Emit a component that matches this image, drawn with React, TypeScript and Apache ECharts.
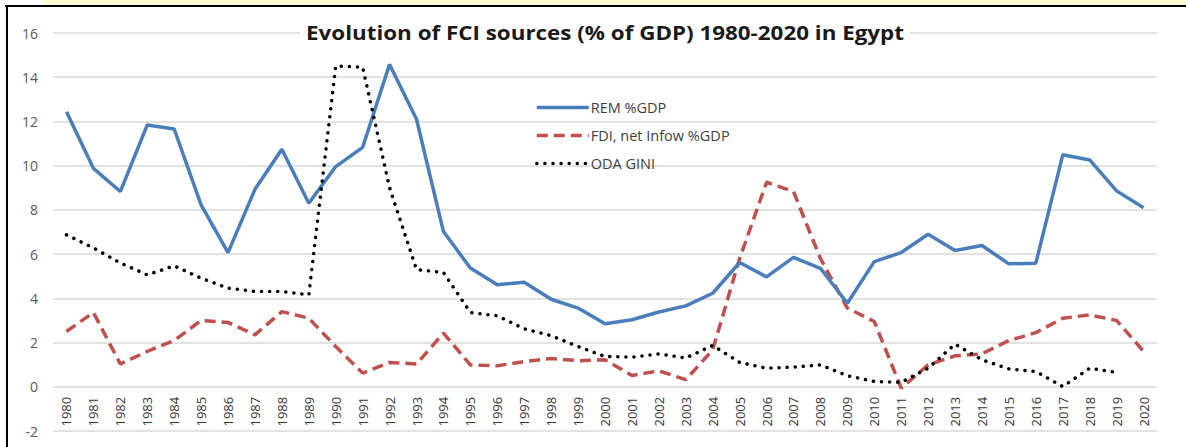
import React, { useEffect, useRef } from "react";
import * as echarts from "echarts";

const years: string[] = [
  "1980","1981","1982","1983","1984","1985","1986","1987","1988","1989",
  "1990","1991","1992","1993","1994","1995","1996","1997","1998","1999",
  "2000","2001","2002","2003","2004","2005","2006","2007","2008","2009",
  "2010","2011","2012","2013","2014","2015","2016","2017","2018","2019","2020",
];

const remGdp: number[] = [
  12.44, 9.88, 8.83, 11.84, 11.66, 8.23, 6.07, 8.93, 10.74, 8.3,
  9.96, 10.83, 14.58, 12.1, 7.02, 5.37, 4.61, 4.73, 3.96, 3.56,
  2.85, 3.03, 3.38, 3.66, 4.23, 5.62, 4.97, 5.85, 5.36, 3.78,
  5.66, 6.07, 6.9, 6.16, 6.39, 5.56, 5.59, 10.49, 10.26, 8.86, 8.1,
];

const fdiGdp: number[] = [
  2.5, 3.36, 1.03, 1.6, 2.09, 3.0, 2.91, 2.35, 3.4, 3.1,
  1.82, 0.62, 1.1, 1.03, 2.43, 0.99, 0.95, 1.14, 1.28, 1.18,
  1.22, 0.51, 0.72, 0.32, 1.67, 5.8, 9.25, 8.83, 5.8, 3.56,
  2.95, -0.06, 0.99, 1.4, 1.49, 2.09, 2.45, 3.1, 3.25, 3.0, 1.6,
];

const odaGini: (number | null)[] = [
  6.87, 6.28, 5.6, 5.06, 5.47, 4.91, 4.46, 4.31, 4.31, 4.16,
  14.51, 14.45, 9.0, 5.3, 5.17, 3.36, 3.21, 2.62, 2.31, 1.82,
  1.37, 1.34, 1.49, 1.3, 1.87, 1.1, 0.84, 0.89, 0.99, 0.5,
  0.24, 0.2, 0.84, 1.93, 1.22, 0.81, 0.69, 0.01, 0.84, 0.65, null,
];

const seriesNames: string[] = ["REM %GDP", "FDI, net Infow %GDP", "ODA GINI"];
const titleText = "Evolution of FCI sources (% of GDP) 1980-2020 in Egypt";

export default function App() {
  const ref = useRef<HTMLDivElement>(null);

  useEffect(() => {
    document.body.style.margin = "0";
    if (!ref.current) return;
    const chart = echarts.init(ref.current, undefined, { renderer: "svg" });
    const font = "'Open Sans', 'Liberation Sans', sans-serif";
    chart.setOption({
      animation: false,
      backgroundColor: "#ffffff",
      textStyle: { fontFamily: font },
      legend: {
        orient: "vertical",
        left: 530,
        top: 95,
        itemWidth: 52,
        itemHeight: 14,
        itemGap: 13,
        itemStyle: { opacity: 0 },
        lineStyle: { width: 3.5 },
        textStyle: { fontFamily: font, fontSize: 14.5, color: "#404040", padding: [0, 0, 0, -3] },
        data: seriesNames,
      },
      grid: { left: 53, right: 29, top: 33, bottom: 16, outerBoundsMode: "none", containLabel: false },
      xAxis: {
        type: "category",
        data: years,
        boundaryGap: true,
        offset: -44.22,
        axisLine: { show: false, onZero: false },
        axisTick: { show: false },
        axisLabel: {
          rotate: 90,
          interval: 0,
          margin: 10,
          fontFamily: font,
          fontSize: 13,
          color: "#333333",
        },
      },
      yAxis: {
        type: "value",
        min: -2,
        max: 16,
        interval: 2,
        axisLine: { show: false },
        axisTick: { show: false },
        axisLabel: { margin: 15, fontFamily: font, fontSize: 14, color: "#595959" },
        splitLine: { lineStyle: { color: "#d9d9d9", width: 1.5 } },
      },
      series: [
        {
          name: seriesNames[0],
          type: "line",
          data: remGdp,
          symbol: "none",
          color: "#4A7EBB",
          lineStyle: { color: "#4A7EBB", width: 3.5 },
          z: 3,
        },
        {
          name: seriesNames[1],
          type: "line",
          data: fdiGdp,
          symbol: "none",
          color: "#C0504D",
          lineStyle: { color: "#C0504D", width: 3.5, type: [11, 6] },
          z: 2,
        },
        {
          name: seriesNames[2],
          type: "line",
          data: odaGini,
          symbol: "none",
          color: "#000000",
          connectNulls: false,
          lineStyle: { color: "#000000", width: 3.5, type: [0.1, 8], cap: "round" },
          z: 4,
        },
      ],
      graphic: [
        {
          type: "rect",
          shape: { x: 44, y: 0, width: 1142, height: 5 },
          style: { fill: "#fffbd0" },
          silent: true,
        },
        {
          type: "line",
          shape: { x1: 5, y1: 6, x2: 1186, y2: 6 },
          style: { stroke: "#000000", lineWidth: 2 },
          silent: true,
        },
        {
          type: "line",
          shape: { x1: 7, y1: 6, x2: 7, y2: 447 },
          style: { stroke: "#000000", lineWidth: 2 },
          silent: true,
        },
        {
          type: "text",
          x: 605,
          y: 32,
          scaleX: 1.12,
          z: 100,
          silent: true,
          style: {
            text: titleText,
            font: "bold 20px 'Open Sans', sans-serif",
            fill: "#1a1a1a",
            align: "center",
            verticalAlign: "middle",
            backgroundColor: "#ffffff",
            padding: [2, 5],
          },
        },
      ],
    });
    return () => chart.dispose();
  }, []);

  return <div ref={ref} style={{ width: 1186, height: 447 }} />;
}
